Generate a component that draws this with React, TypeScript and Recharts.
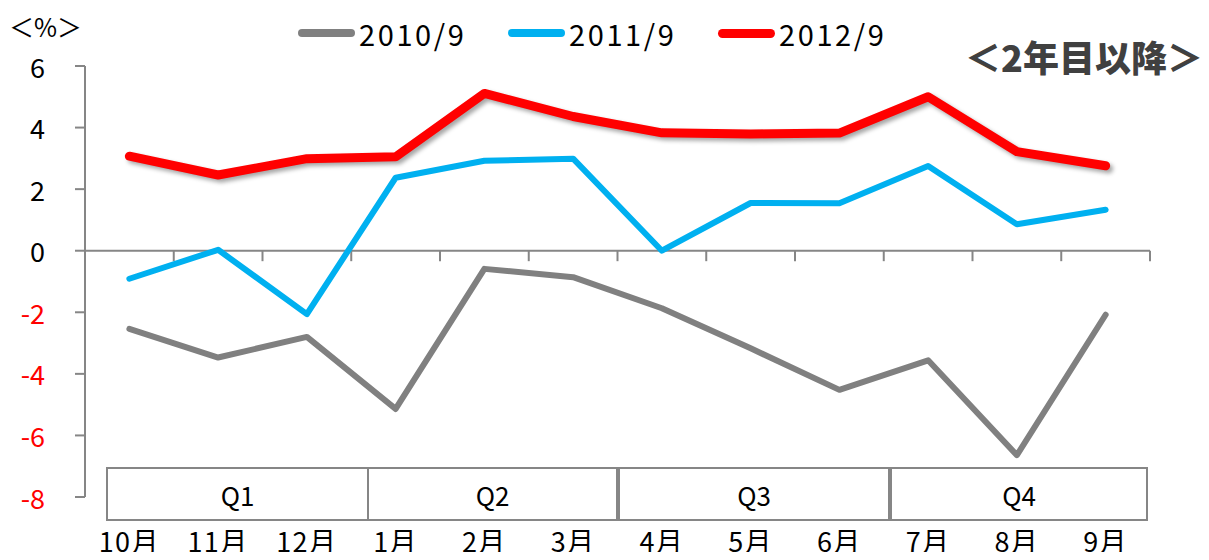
import React from "react";
import { LineChart, Line, XAxis, YAxis, Legend, ReferenceLine } from "recharts";

const months = ["10月", "11月", "12月", "1月", "2月", "3月", "4月", "5月", "6月", "7月", "8月", "9月"];
const y2010 = [-2.54, -3.47, -2.8, -5.14, -0.59, -0.86, -1.87, -3.17, -4.52, -3.56, -6.64, -2.08];
const y2011 = [-0.91, 0.03, -2.06, 2.37, 2.92, 2.99, 0, 1.55, 1.54, 2.75, 0.86, 1.33];
const y2012 = [3.07, 2.46, 2.99, 3.05, 5.11, 4.36, 3.83, 3.79, 3.82, 5.0, 3.22, 2.76];
const yTicks = [-8, -6, -4, -2, 0, 2, 4, 6];
const quarters = ["Q1", "Q2", "Q3", "Q4"];

const data = months.map((m, i) => ({ month: m, a: y2010[i], b: y2011[i], c: y2012[i] }));

const FONT = "'Noto Sans CJK JP', 'Noto Sans', sans-serif";
const AXIS = "#868686";
const TICK_LEN = 0.34; // zero-line tick length in value units (~10px)

// edges of the quarter table (drawn on top, like the pasted Excel table)
const qEdges = [106, 369, 620, 892, 1150];

const legendItems = [
  { label: "2010/9", color: "#808080", h: 8 },
  { label: "2011/9", color: "#00B0F0", h: 8 },
  { label: "2012/9", color: "#FF0000", h: 9 },
];

const YTick = (props: any) => {
  const { x, y, payload } = props;
  return (
    <text x={x} y={y} textAnchor="end" dominantBaseline="central" fontSize={27}
      fontFamily={FONT} fill={payload.value < 0 ? "#FF0000" : "#000"}>
      {payload.value}
    </text>
  );
};

const LegendRow = () => (
  <div style={{ display: "flex", alignItems: "center", fontFamily: FONT, fontSize: 29, color: "#000", letterSpacing: 2.6 }}>
    {legendItems.map((it) => (
      <div key={it.label} style={{ display: "flex", alignItems: "center", width: 210 }}>
        <span style={{ display: "inline-block", width: 57, height: it.h, borderRadius: it.h / 2, background: it.color, marginRight: 4 }} />
        <span>{it.label}</span>
      </div>
    ))}
  </div>
);

export default function App() {
  return (
    <div style={{ position: "relative", margin: -8, width: 1209, height: 560, background: "#fff", fontFamily: FONT }}>
      <style>{`.red-line { filter: drop-shadow(3px 3px 2px rgba(0,0,0,0.35)); }`}</style>
      <LineChart width={1209} height={560} data={data} margin={{ top: 26, right: 59, bottom: 0, left: 0 }}>
        <Legend verticalAlign="top" content={<LegendRow />}
          wrapperStyle={{ top: 12, left: 298, width: "auto", height: 40 }} />
        <XAxis dataKey="month" scale="band" axisLine={false} tickLine={false} tickSize={0} tickMargin={36} height={63}
          tick={{ fontSize: 27, fill: "#000", fontFamily: FONT, letterSpacing: 1.5 }} interval={0} />
        <YAxis domain={[-8, 6]} ticks={yTicks} width={85} tickSize={10} tickMargin={30}
          axisLine={{ stroke: AXIS, strokeWidth: 2 }} tickLine={{ stroke: AXIS, strokeWidth: 2 }}
          tick={<YTick />} interval={0} />
        <ReferenceLine y={0} stroke={AXIS} strokeWidth={2} />
        {months.slice(1).map((m) => (
          <ReferenceLine key={m} position="start" stroke={AXIS} strokeWidth={2}
            segment={[{ x: m, y: 0 }, { x: m, y: -TICK_LEN }]} />
        ))}
        <ReferenceLine position="end" stroke={AXIS} strokeWidth={2}
          segment={[{ x: months[11], y: 0 }, { x: months[11], y: -TICK_LEN }]} />
        <Line dataKey="a" name="2010/9" stroke="#808080" strokeWidth={6} dot={false} isAnimationActive={false} strokeLinecap="round" strokeLinejoin="round" />
        <Line dataKey="b" name="2011/9" stroke="#00B0F0" strokeWidth={6} dot={false} isAnimationActive={false} strokeLinecap="round" strokeLinejoin="round" />
        <Line dataKey="c" name="2012/9" className="red-line" stroke="#FF0000" strokeWidth={9} dot={false} isAnimationActive={false} strokeLinecap="round" strokeLinejoin="round" />
      </LineChart>

      <div style={{ position: "absolute", left: 9, top: 8, fontSize: 25, color: "#000" }}>＜%＞</div>
      <div style={{ position: "absolute", right: 6, top: 30, fontSize: 36, fontWeight: 900, color: "#404040", letterSpacing: 0 }}>
        ＜2年目以降＞
      </div>

      {quarters.map((q, i) => (
        <div key={q} style={{
          position: "absolute", left: qEdges[i], top: 467, width: qEdges[i + 1] - qEdges[i], height: 54,
          boxSizing: "border-box", border: `2px solid ${AXIS}`, marginLeft: i === 0 ? 0 : -2,
          display: "flex", alignItems: "center", justifyContent: "center", fontSize: 26, color: "#000",
        }}>{q}</div>
      ))}
    </div>
  );
}
